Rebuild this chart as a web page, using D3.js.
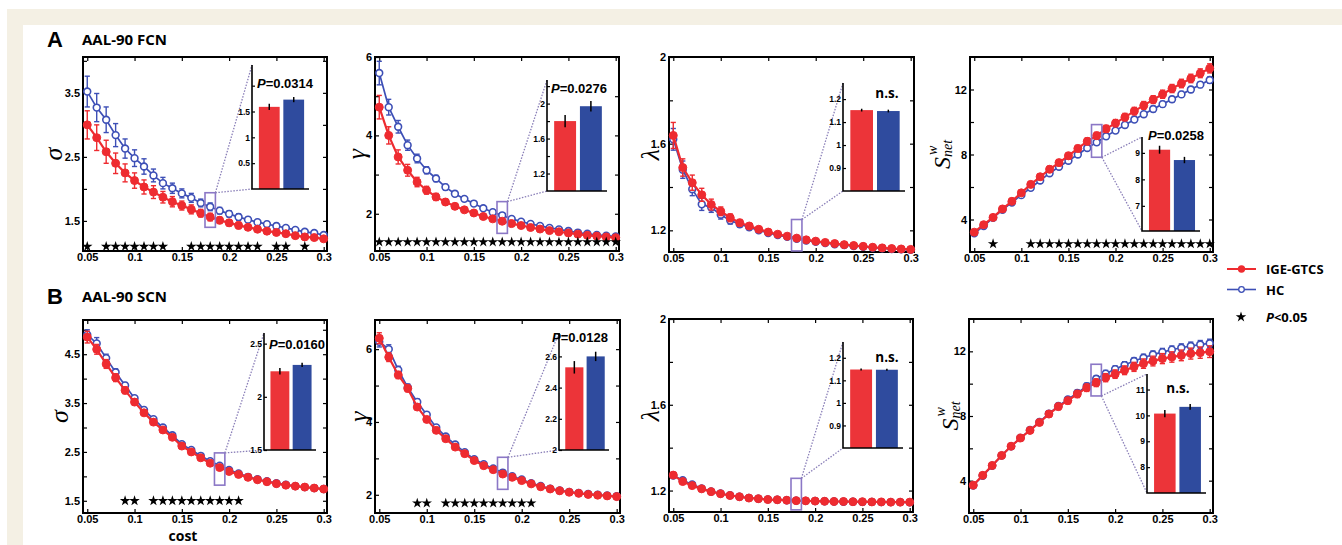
<!DOCTYPE html>
<html>
<head>
<meta charset="utf-8">
<script src="https://cdn.jsdelivr.net/npm/d3@7"></script>
<style>
  body { margin: 0; background: #fff; }
  svg { display: block; }
</style>
</head>
<body>
<svg id="chart" width="1342" height="545"></svg>
<script>
// network cost (x axis)
const cost = [0.05, 0.06, 0.07, 0.08, 0.09, 0.10, 0.11, 0.12, 0.13, 0.14, 0.15, 0.16, 0.17,
              0.18, 0.19, 0.20, 0.21, 0.22, 0.23, 0.24, 0.25, 0.26, 0.27, 0.28, 0.29, 0.30];
const xTicks = [0.05, 0.1, 0.15, 0.2, 0.25, 0.3];

// A: AAL-90 FCN
const sigmaFcnPat = [3.00, 2.80, 2.58, 2.40, 2.25, 2.13, 2.03, 1.95, 1.87, 1.80, 1.74, 1.68, 1.62, 1.56, 1.51, 1.47, 1.43, 1.40, 1.37, 1.34, 1.32, 1.30, 1.27, 1.25, 1.24, 1.22];
const sigmaFcnPatErr = [0.22, 0.20, 0.18, 0.16, 0.14, 0.12, 0.11, 0.10, 0.09, 0.08, 0.07, 0.07, 0.06, 0.06, 0.05, 0.05, 0.05, 0.04, 0.04, 0.04, 0.04, 0.03, 0.03, 0.03, 0.03, 0.03];
const sigmaFcnHc = [3.52, 3.27, 3.08, 2.84, 2.63, 2.48, 2.35, 2.21, 2.09, 2.01, 1.93, 1.86, 1.78, 1.72, 1.66, 1.61, 1.56, 1.52, 1.48, 1.45, 1.42, 1.39, 1.36, 1.33, 1.31, 1.28];
const sigmaFcnHcErr = [0.24, 0.22, 0.20, 0.18, 0.15, 0.13, 0.12, 0.10, 0.09, 0.08, 0.07, 0.07, 0.06, 0.06, 0.05, 0.05, 0.05, 0.04, 0.04, 0.04, 0.04, 0.03, 0.03, 0.03, 0.03, 0.03];

const gammaFcnPat = [4.72, 4.00, 3.45, 3.11, 2.81, 2.60, 2.43, 2.30, 2.19, 2.10, 2.02, 1.93, 1.87, 1.81, 1.75, 1.70, 1.65, 1.61, 1.57, 1.54, 1.51, 1.48, 1.45, 1.43, 1.41, 1.39];
const gammaFcnPatErr = [0.30, 0.22, 0.18, 0.15, 0.12, 0.10, 0.09, 0.08, 0.07, 0.06, 0.05, 0.05, 0.05, 0.04, 0.04, 0.04, 0.04, 0.03, 0.03, 0.03, 0.03, 0.03, 0.03, 0.03, 0.03, 0.03];
const gammaFcnHc = [5.59, 4.72, 4.22, 3.75, 3.41, 3.11, 2.90, 2.68, 2.51, 2.38, 2.26, 2.14, 2.04, 1.96, 1.87, 1.80, 1.74, 1.69, 1.64, 1.60, 1.56, 1.52, 1.49, 1.46, 1.44, 1.42];
const gammaFcnHcErr = [0.30, 0.20, 0.16, 0.13, 0.11, 0.09, 0.08, 0.07, 0.06, 0.05, 0.05, 0.05, 0.04, 0.04, 0.04, 0.04, 0.03, 0.03, 0.03, 0.03, 0.03, 0.03, 0.03, 0.03, 0.03, 0.03];

const lambdaFcnPat = [1.638, 1.490, 1.420, 1.364, 1.319, 1.288, 1.258, 1.235, 1.220, 1.205, 1.192, 1.182, 1.173, 1.164, 1.156, 1.150, 1.144, 1.139, 1.134, 1.130, 1.126, 1.122, 1.119, 1.116, 1.114, 1.112];
const lambdaFcnPatErr = [0.060, 0.040, 0.035, 0.030, 0.025, 0.020, 0.018, 0.015, 0.012, 0.010, 0.010, 0.008, 0.008, 0.007, 0.006, 0.006, 0.005, 0.005, 0.005, 0.005, 0.004, 0.004, 0.004, 0.004, 0.004, 0.004];
const lambdaFcnHc = [1.620, 1.480, 1.390, 1.320, 1.305, 1.272, 1.245, 1.228, 1.214, 1.200, 1.188, 1.178, 1.170, 1.161, 1.153, 1.147, 1.141, 1.136, 1.132, 1.128, 1.124, 1.120, 1.117, 1.114, 1.112, 1.110];
const lambdaFcnHcErr = [0.050, 0.040, 0.030, 0.028, 0.022, 0.020, 0.016, 0.014, 0.012, 0.010, 0.009, 0.008, 0.007, 0.006, 0.006, 0.005, 0.005, 0.005, 0.004, 0.004, 0.004, 0.004, 0.004, 0.004, 0.004, 0.004];

const strengthFcnPat = [3.22, 3.68, 4.13, 4.65, 5.12, 5.64, 6.16, 6.63, 7.09, 7.50, 7.92, 8.37, 8.81, 9.16, 9.58, 9.93, 10.30, 10.67, 11.02, 11.38, 11.71, 12.06, 12.37, 12.68, 13.00, 13.30];
const strengthFcnPatErr = [0.15, 0.15, 0.16, 0.16, 0.17, 0.17, 0.18, 0.18, 0.19, 0.19, 0.20, 0.20, 0.21, 0.21, 0.22, 0.22, 0.23, 0.23, 0.24, 0.24, 0.25, 0.25, 0.26, 0.26, 0.27, 0.28];
const strengthFcnHc = [3.15, 3.60, 4.10, 4.60, 5.05, 5.50, 5.95, 6.40, 6.85, 7.25, 7.62, 8.00, 8.40, 8.75, 9.12, 9.47, 9.82, 10.15, 10.48, 10.80, 11.10, 11.40, 11.70, 12.00, 12.30, 12.58];
const strengthFcnHcErr = [0.10, 0.10, 0.11, 0.11, 0.12, 0.12, 0.12, 0.13, 0.13, 0.13, 0.14, 0.14, 0.14, 0.15, 0.15, 0.15, 0.16, 0.16, 0.16, 0.17, 0.17, 0.17, 0.18, 0.18, 0.18, 0.19];

// B: AAL-90 SCN
const sigmaScnPat = [4.85, 4.60, 4.30, 4.02, 3.76, 3.52, 3.30, 3.11, 2.95, 2.80, 2.62, 2.50, 2.38, 2.27, 2.18, 2.10, 2.04, 1.98, 1.93, 1.89, 1.85, 1.82, 1.80, 1.78, 1.76, 1.74];
const sigmaScnPatErr = [0.12, 0.10, 0.09, 0.08, 0.07, 0.06, 0.05, 0.05, 0.04, 0.04, 0.04, 0.03, 0.03, 0.03, 0.03, 0.03, 0.03, 0.03, 0.03, 0.03, 0.03, 0.03, 0.03, 0.03, 0.03, 0.03];
const sigmaScnHc = [4.90, 4.72, 4.42, 4.13, 3.86, 3.60, 3.36, 3.17, 3.00, 2.84, 2.66, 2.54, 2.42, 2.31, 2.22, 2.13, 2.06, 1.99, 1.94, 1.90, 1.86, 1.83, 1.80, 1.78, 1.76, 1.74];
const sigmaScnHcErr = [0.10, 0.12, 0.08, 0.07, 0.06, 0.05, 0.05, 0.04, 0.04, 0.04, 0.03, 0.03, 0.03, 0.03, 0.03, 0.03, 0.03, 0.03, 0.03, 0.03, 0.03, 0.03, 0.03, 0.03, 0.03, 0.03];

const gammaScnPat = [6.30, 5.78, 5.29, 4.92, 4.41, 4.07, 3.77, 3.54, 3.31, 3.13, 2.94, 2.80, 2.69, 2.57, 2.48, 2.39, 2.30, 2.22, 2.16, 2.11, 2.07, 2.04, 2.01, 1.99, 1.97, 1.95];
const gammaScnPatErr = [0.15, 0.12, 0.10, 0.09, 0.08, 0.07, 0.06, 0.05, 0.05, 0.04, 0.04, 0.04, 0.04, 0.03, 0.03, 0.03, 0.03, 0.03, 0.03, 0.03, 0.03, 0.03, 0.03, 0.03, 0.03, 0.03];
const gammaScnHc = [6.20, 6.00, 5.43, 4.95, 4.55, 4.20, 3.85, 3.60, 3.38, 3.17, 2.98, 2.84, 2.72, 2.61, 2.51, 2.42, 2.32, 2.24, 2.17, 2.12, 2.08, 2.05, 2.02, 2.00, 1.98, 1.96];
const gammaScnHcErr = [0.14, 0.12, 0.10, 0.09, 0.08, 0.07, 0.06, 0.05, 0.05, 0.04, 0.04, 0.04, 0.03, 0.03, 0.03, 0.03, 0.03, 0.03, 0.03, 0.03, 0.03, 0.03, 0.03, 0.03, 0.03, 0.03];

const lambdaScnPat = [1.272, 1.242, 1.223, 1.208, 1.195, 1.185, 1.177, 1.171, 1.165, 1.162, 1.158, 1.157, 1.155, 1.153, 1.152, 1.151, 1.150, 1.149, 1.149, 1.148, 1.148, 1.147, 1.147, 1.146, 1.146, 1.146];
const lambdaScnPatErr = [0.010, 0.008, 0.007, 0.006, 0.005, 0.005, 0.004, 0.004, 0.004, 0.003, 0.003, 0.003, 0.003, 0.003, 0.003, 0.003, 0.003, 0.003, 0.003, 0.003, 0.003, 0.003, 0.003, 0.003, 0.003, 0.003];
const lambdaScnHc = [1.270, 1.248, 1.228, 1.210, 1.196, 1.186, 1.178, 1.171, 1.166, 1.162, 1.159, 1.157, 1.155, 1.153, 1.152, 1.151, 1.150, 1.149, 1.148, 1.148, 1.147, 1.147, 1.146, 1.146, 1.146, 1.145];
const lambdaScnHcErr = [0.009, 0.008, 0.007, 0.006, 0.005, 0.005, 0.004, 0.004, 0.004, 0.003, 0.003, 0.003, 0.003, 0.003, 0.003, 0.003, 0.003, 0.003, 0.003, 0.003, 0.003, 0.003, 0.003, 0.003, 0.003, 0.003];

const strengthScnPat = [3.72, 4.33, 4.94, 5.56, 6.13, 6.64, 7.11, 7.60, 8.12, 8.58, 8.95, 9.36, 9.75, 10.06, 10.37, 10.59, 10.83, 11.04, 11.24, 11.40, 11.55, 11.65, 11.75, 11.86, 11.92, 11.98];
const strengthScnPatErr = [0.10, 0.10, 0.12, 0.13, 0.14, 0.15, 0.16, 0.17, 0.18, 0.19, 0.20, 0.22, 0.23, 0.24, 0.25, 0.26, 0.27, 0.28, 0.29, 0.30, 0.31, 0.32, 0.33, 0.34, 0.35, 0.36];
const strengthScnHc = [3.70, 4.30, 4.92, 5.55, 6.12, 6.65, 7.13, 7.63, 8.15, 8.62, 9.02, 9.42, 9.85, 10.30, 10.62, 10.90, 11.15, 11.40, 11.60, 11.80, 11.95, 12.10, 12.22, 12.33, 12.42, 12.50];
const strengthScnHcErr = [0.08, 0.08, 0.09, 0.10, 0.11, 0.12, 0.13, 0.14, 0.15, 0.16, 0.17, 0.18, 0.18, 0.19, 0.20, 0.20, 0.21, 0.21, 0.22, 0.22, 0.23, 0.23, 0.24, 0.24, 0.25, 0.25];

// costs with P<0.05
const starsSigmaFcn = [0.05, 0.07, 0.08, 0.09, 0.10, 0.11, 0.12, 0.13, 0.16, 0.17, 0.18, 0.19, 0.20, 0.21, 0.22, 0.23, 0.25, 0.26, 0.28];
const starsGammaFcn = [0.05, 0.06, 0.07, 0.08, 0.09, 0.10, 0.11, 0.12, 0.13, 0.14, 0.15, 0.16, 0.17, 0.18, 0.19, 0.20, 0.21, 0.22, 0.23, 0.24, 0.25, 0.26, 0.27, 0.28, 0.29, 0.30];
const starsStrengthFcn = [0.07, 0.11, 0.12, 0.13, 0.14, 0.15, 0.16, 0.17, 0.18, 0.19, 0.20, 0.21, 0.22, 0.23, 0.24, 0.25, 0.26, 0.27, 0.28, 0.29, 0.30];
const starsSigmaScn = [0.09, 0.10, 0.12, 0.13, 0.14, 0.15, 0.16, 0.17, 0.18, 0.19, 0.20, 0.21];
const starsGammaScn = [0.09, 0.10, 0.12, 0.13, 0.14, 0.15, 0.16, 0.17, 0.18, 0.19, 0.20, 0.21];

// inset bars (one per panel, A1..A4, B1..B4)
const insetPat = [1.59, 1.80, 1.152, 9.12, 2.24, 2.53, 1.148, 10.07];
const insetPatErr = [0.06, 0.07, 0.006, 0.15, 0.03, 0.04, 0.004, 0.14];
const insetHc = [1.73, 1.97, 1.148, 8.73, 2.30, 2.60, 1.147, 10.33];
const insetHcErr = [0.05, 0.06, 0.006, 0.12, 0.02, 0.03, 0.004, 0.11];
const insetNote = ["P=0.0314", "P=0.0276", "n.s.", "P=0.0258", "P=0.0160", "P=0.0128", "n.s.", "n.s."];

const legendLabels = ["IGE-GTCS", "HC", "P<0.05"];

// ---------------------------------------------------------------
const RED = "#ee2b30", BLUE = "#3d4fb6";
const BAR_RED = "#ec3439", BAR_BLUE = "#2f4b9e", ZOOM = "#8b77c6";
const tickFont = "'Liberation Sans', Arial, sans-serif";
const titleFont = "'Open Sans', 'Noto Sans', sans-serif";
const greekFont = "'Liberation Serif', 'DejaVu Serif', serif";
const xDomain = [0.0455, 0.3035];
const fmt = d3.format("~g");

const panels = [
  { pat: sigmaFcnPat, patErr: sigmaFcnPatErr, hc: sigmaFcnHc, hcErr: sigmaFcnHcErr, stars: starsSigmaFcn, starY: 1.1,
    box: {x: 83, y: 57, w: 244, h: 194}, yDomain: [1.03, 4.06], yTicks: [1.5, 2, 2.5, 3, 3.5, 4], yLabels: [1.5, 2.5, 3.5],
    ylab: "σ", ylabX: 53, zoomAt: 0.18, zoomY: [1.4, 1.94], corner: "top",
    inset: {x: 252, y: 65, w: 57, h: 124, domain: [0, 2.4], ticks: [0.5, 1, 1.5, 2], labels: [0.5, 1, 1.5]},
    note: {x: 257, y: 88, anchor: "start"} },
  { pat: gammaFcnPat, patErr: gammaFcnPatErr, hc: gammaFcnHc, hcErr: gammaFcnHcErr, stars: starsGammaFcn, starY: 1.28,
    box: {x: 375, y: 57, w: 244, h: 194}, yDomain: [1.05, 6], yTicks: [2, 3, 4, 5, 6], yLabels: [2, 4, 6],
    ylab: "γ", ylabX: 356, zoomAt: 0.18, zoomY: [1.5, 2.31], corner: "top",
    inset: {x: 547, y: 80, w: 60, h: 111, domain: [1.0, 2.27], ticks: [1.2, 1.4, 1.6, 1.8, 2, 2.2], labels: [1.2, 1.6, 2]},
    note: {x: 551, y: 93, anchor: "start"} },
  { pat: lambdaFcnPat, patErr: lambdaFcnPatErr, hc: lambdaFcnHc, hcErr: lambdaFcnHcErr, stars: [], starY: 1.1,
    box: {x: 669, y: 57, w: 245, h: 195}, yDomain: [1.1, 2], yTicks: [1.2, 1.4, 1.6, 1.8, 2], yLabels: [1.2, 1.6, 2],
    ylab: "λ", ylabX: 650, zoomAt: 0.18, zoomY: [1.105, 1.25], corner: "top",
    inset: {x: 843, y: 83, w: 62, h: 108, domain: [0.8, 1.27], ticks: [0.9, 1, 1.1, 1.2], labels: [0.9, 1, 1.1, 1.2]},
    note: {x: 887, y: 98, anchor: "middle"} },
  { pat: strengthFcnPat, patErr: strengthFcnPatErr, hc: strengthFcnHc, hcErr: strengthFcnHcErr, stars: starsStrengthFcn, starY: 2.5,
    box: {x: 970, y: 57, w: 243, h: 195}, yDomain: [2, 14], yTicks: [4, 6, 8, 10, 12], yLabels: [4, 8, 12],
    ylab: "S", ylabX: 942, zoomAt: 0.18, zoomY: [7.83, 9.84], corner: "bottom",
    inset: {x: 1142, y: 137, w: 58, h: 94, domain: [6.05, 9.6], ticks: [7, 8, 9], labels: [7, 8, 9]},
    note: {x: 1148, y: 140, anchor: "start"} },
  { pat: sigmaScnPat, patErr: sigmaScnPatErr, hc: sigmaScnHc, hcErr: sigmaScnHcErr, stars: starsSigmaScn, starY: 1.5,
    box: {x: 83, y: 320, w: 244, h: 193}, yDomain: [1.25, 5.2], yTicks: [1.5, 2, 2.5, 3, 3.5, 4, 4.5, 5], yLabels: [1.5, 2.5, 3.5, 4.5],
    ylab: "σ", ylabX: 59, zoomAt: 0.19, zoomY: [1.82, 2.48], corner: "top",
    inset: {x: 264, y: 333, w: 52, h: 117, domain: [1.5, 2.6], ticks: [1.5, 2, 2.5], labels: [1.5, 2, 2.5]},
    note: {x: 269, y: 349, anchor: "start"} },
  { pat: gammaScnPat, patErr: gammaScnPatErr, hc: gammaScnHc, hcErr: gammaScnHcErr, stars: starsGammaScn, starY: 1.77,
    box: {x: 375, y: 320, w: 245, h: 193}, yDomain: [1.5, 6.8], yTicks: [2, 3, 4, 5, 6], yLabels: [2, 4, 6],
    ylab: "γ", ylabX: 358, zoomAt: 0.18, zoomY: [2.15, 3.03], corner: "top",
    inset: {x: 559, y: 333, w: 50, h: 117, domain: [2, 2.75], ticks: [2, 2.2, 2.4, 2.6], labels: [2, 2.2, 2.4, 2.6]},
    note: {x: 552, y: 342, anchor: "start"} },
  { pat: lambdaScnPat, patErr: lambdaScnPatErr, hc: lambdaScnHc, hcErr: lambdaScnHcErr, stars: [], starY: 1.1,
    box: {x: 669, y: 319, w: 244, h: 193}, yDomain: [1.1, 2], yTicks: [1.2, 1.4, 1.6, 1.8, 2], yLabels: [1.2, 1.6, 2],
    ylab: "λ", ylabX: 650, zoomAt: 0.18, zoomY: [1.11, 1.257], corner: "top",
    inset: {x: 843, y: 342, w: 60, h: 106, domain: [0.8, 1.27], ticks: [0.9, 1, 1.1, 1.2], labels: [0.9, 1, 1.1, 1.2]},
    note: {x: 887, y: 362, anchor: "middle"} },
  { pat: strengthScnPat, patErr: strengthScnPatErr, hc: strengthScnHc, hcErr: strengthScnHcErr, stars: [], starY: 2.5,
    box: {x: 969, y: 319, w: 244, h: 194}, yDomain: [2, 14], yTicks: [4, 6, 8, 10, 12], yLabels: [4, 8, 12],
    ylab: "S", ylabX: 950, zoomAt: 0.18, zoomY: [9.24, 11.2], corner: "bottom",
    inset: {x: 1147, y: 374, w: 59, h: 119, domain: [7, 11.6], ticks: [8, 9, 10, 11], labels: [8, 9, 10, 11]},
    note: {x: 1178, y: 393, anchor: "middle"} }
];

const svg = d3.select("#chart");

// page backdrop: cream frame at top and left
svg.append("rect").attr("width", 1342).attr("height", 545).attr("fill", "#fff");
svg.append("rect").attr("x", 7).attr("y", 9).attr("width", 1335).attr("height", 16).attr("fill", "#f4f0e4");
svg.append("rect").attr("x", 7).attr("y", 9).attr("width", 16).attr("height", 536).attr("fill", "#f4f0e4");

// panel titles
function title(letter, text, y) {
  svg.append("text").attr("x", 47).attr("y", y).text(letter)
    .attr("font-family", tickFont).attr("font-weight", "bold").attr("font-size", 22);
  svg.append("text").attr("x", 82).attr("y", y - 2).text(text)
    .attr("font-family", titleFont).attr("font-weight", "bold").attr("font-size", 15);
}
title("A", "AAL-90 FCN", 47);
title("B", "AAL-90 SCN", 304);

function styleTicks(sel, size) {
  sel.select(".domain").remove();
  sel.selectAll("line").attr("stroke", "#000").attr("stroke-width", 1.2);
  sel.selectAll("text").attr("font-family", tickFont).attr("font-weight", "bold")
    .attr("font-size", size).attr("fill", "#000");
}

function drawPanel(p, i) {
  const g = svg.append("g");
  const b = p.box;
  const x = d3.scaleLinear().domain(xDomain).range([b.x, b.x + b.w]);
  const y = d3.scaleLinear().domain(p.yDomain).range([b.y + b.h, b.y]);

  // axes with inward ticks on all four sides
  g.append("g").attr("transform", `translate(0,${b.y + b.h})`)
    .call(d3.axisBottom(x).tickValues(xTicks).tickSize(-4).tickSizeOuter(0).tickPadding(2).tickFormat(fmt))
    .call(s => styleTicks(s, 11));
  g.append("g").attr("transform", `translate(0,${b.y})`)
    .call(d3.axisTop(x).tickValues(xTicks).tickSize(-4).tickSizeOuter(0).tickFormat(""))
    .call(s => styleTicks(s, 11));
  g.append("g").attr("transform", `translate(${b.x},0)`)
    .call(d3.axisLeft(y).tickValues(p.yTicks).tickSize(-4).tickSizeOuter(0).tickPadding(3)
      .tickFormat(d => p.yLabels.includes(d) ? fmt(d) : ""))
    .call(s => styleTicks(s, 11));
  g.append("g").attr("transform", `translate(${b.x + b.w},0)`)
    .call(d3.axisRight(y).tickValues(p.yTicks).tickSize(-4).tickSizeOuter(0).tickFormat(""))
    .call(s => styleTicks(s, 11));
  g.append("rect").attr("x", b.x).attr("y", b.y).attr("width", b.w).attr("height", b.h)
    .attr("fill", "none").attr("stroke", "#000").attr("stroke-width", 2);

  // y label
  const yl = g.append("text")
    .attr("transform", `translate(${p.ylabX},${b.y + b.h / 2}) rotate(-90)`)
    .attr("text-anchor", "middle").attr("dominant-baseline", "central")
    .attr("font-family", greekFont).attr("font-style", "italic").attr("fill", "#000");
  if (p.ylab === "S") {
    yl.append("tspan").attr("font-size", 24).text("S");
    yl.append("tspan").attr("font-size", 14).attr("dy", 5).text("net");
    yl.append("tspan").attr("font-size", 14).attr("dx", -15).attr("dy", -15).text("w");
  } else {
    yl.attr("font-size", 26).text(p.ylab);
  }

  // series: HC first, patients on top
  const line = d3.line().x((d, k) => x(cost[k])).y(d => y(d));
  const series = [
    {vals: p.hc, err: p.hcErr, color: BLUE, filled: false, width: 1.7},
    {vals: p.pat, err: p.patErr, color: RED, filled: true, width: 2.2}
  ];
  series.forEach(s => {
    const sg = g.append("g");
    sg.append("path").datum(s.vals).attr("d", line)
      .attr("fill", "none").attr("stroke", s.color).attr("stroke-width", s.width);
    const eb = sg.selectAll(".eb").data(s.vals).enter().append("g");
    eb.append("line")
      .attr("x1", (d, k) => x(cost[k])).attr("x2", (d, k) => x(cost[k]))
      .attr("y1", (d, k) => y(d - s.err[k])).attr("y2", (d, k) => y(d + s.err[k]))
      .attr("stroke", s.color).attr("stroke-width", 1.4);
    [-1, 1].forEach(sign => {
      eb.append("line")
        .attr("x1", (d, k) => x(cost[k]) - 2.6).attr("x2", (d, k) => x(cost[k]) + 2.6)
        .attr("y1", (d, k) => y(d + sign * s.err[k])).attr("y2", (d, k) => y(d + sign * s.err[k]))
        .attr("stroke", s.color).attr("stroke-width", 1.4);
    });
    sg.selectAll("circle").data(s.vals).enter().append("circle")
      .attr("cx", (d, k) => x(cost[k])).attr("cy", d => y(d))
      .attr("r", s.filled ? 4 : 3.4)
      .attr("fill", s.filled ? s.color : "#fff")
      .attr("stroke", s.color).attr("stroke-width", s.filled ? 1 : 1.6);
  });

  // significance stars
  const star = d3.symbol(d3.symbolStar, 34)();
  g.selectAll(".star").data(p.stars).enter().append("path")
    .attr("d", star).attr("fill", "#000")
    .attr("transform", d => `translate(${x(d)},${y(p.starY)})`);

  // zoom rectangle and connectors
  const rx0 = x(p.zoomAt - 0.0055), rx1 = x(p.zoomAt + 0.0055);
  const ry0 = y(p.zoomY[1]), ry1 = y(p.zoomY[0]);
  g.append("rect").attr("x", rx0).attr("y", ry0).attr("width", rx1 - rx0).attr("height", ry1 - ry0)
    .attr("fill", "none").attr("stroke", ZOOM).attr("stroke-width", 1.6);
  const inset = p.inset;
  const cy = p.corner === "top" ? ry0 : ry1;
  [inset.y, inset.y + inset.h].forEach(ty => {
    g.append("line").attr("x1", rx1).attr("y1", cy).attr("x2", inset.x).attr("y2", ty)
      .attr("stroke", "#8a7fb8").attr("stroke-width", 1.3).attr("stroke-dasharray", "1.5,1.5");
  });

  // inset bar chart
  const yi = d3.scaleLinear().domain(inset.domain).range([inset.y + inset.h, inset.y]);
  const xb = d3.scaleBand().domain(["pat", "hc"]).range([inset.x + 2, inset.x + inset.w])
    .paddingInner(0.15).paddingOuter(0.2);
  const bars = [
    {key: "pat", v: insetPat[i], e: insetPatErr[i], color: BAR_RED},
    {key: "hc", v: insetHc[i], e: insetHcErr[i], color: BAR_BLUE}
  ];
  g.selectAll(".bar").data(bars).enter().append("rect")
    .attr("x", d => xb(d.key)).attr("width", xb.bandwidth())
    .attr("y", d => yi(d.v)).attr("height", d => yi(inset.domain[0]) - yi(d.v))
    .attr("fill", d => d.color);
  g.selectAll(".berr").data(bars).enter().append("line")
    .attr("x1", d => xb(d.key) + xb.bandwidth() / 2).attr("x2", d => xb(d.key) + xb.bandwidth() / 2)
    .attr("y1", d => yi(d.v - d.e)).attr("y2", d => yi(d.v + d.e))
    .attr("stroke", "#000").attr("stroke-width", 1.5);
  g.append("g").attr("transform", `translate(${inset.x},0)`)
    .call(d3.axisLeft(yi).tickValues(inset.ticks).tickSize(-3).tickSizeOuter(0).tickPadding(2)
      .tickFormat(d => inset.labels.includes(d) ? fmt(d) : ""))
    .call(s => styleTicks(s, 8.5));
  g.append("path")
    .attr("d", `M${inset.x},${inset.y}V${inset.y + inset.h}H${inset.x + inset.w}`)
    .attr("fill", "none").attr("stroke", "#000").attr("stroke-width", 1.6);

  // inset annotation
  const note = insetNote[i];
  const nt = g.append("text").attr("x", p.note.x).attr("y", p.note.y)
    .attr("text-anchor", p.note.anchor).attr("font-weight", "bold").attr("fill", "#000");
  if (note.startsWith("P")) {
    nt.attr("font-family", tickFont).attr("font-size", 13);
    nt.append("tspan").attr("font-style", "italic").text("P");
    nt.append("tspan").text(note.slice(1));
  } else {
    nt.attr("font-family", titleFont).attr("font-size", 13.5).text(note);
  }
}

panels.forEach(drawPanel);

// x axis title
svg.append("text").attr("x", 183).attr("y", 541).attr("text-anchor", "middle")
  .attr("font-family", titleFont).attr("font-weight", "bold").attr("font-size", 14).text("cost");

// legend
const lg = svg.append("g").attr("font-family", titleFont).attr("font-weight", "bold").attr("font-size", 13);
const legendY = [269, 289.5, 317];
[{color: RED, filled: true}, {color: BLUE, filled: false}].forEach((d, k) => {
  lg.append("line").attr("x1", 1227).attr("x2", 1256).attr("y1", legendY[k]).attr("y2", legendY[k])
    .attr("stroke", d.color).attr("stroke-width", d.filled ? 2 : 1.6);
  lg.append("circle").attr("cx", 1241.5).attr("cy", legendY[k]).attr("r", d.filled ? 3 : 2.8)
    .attr("fill", d.filled ? d.color : "#fff").attr("stroke", d.color).attr("stroke-width", 1.3);
});
lg.append("path").attr("d", d3.symbol(d3.symbolStar, 34)())
  .attr("transform", `translate(1241,${legendY[2]})`).attr("fill", "#000");
legendLabels.forEach((t, k) => {
  const tx = lg.append("text").attr("x", 1266).attr("y", legendY[k]).attr("dominant-baseline", "central");
  if (t.startsWith("P")) {
    tx.append("tspan").attr("font-style", "italic").text("P");
    tx.append("tspan").text(t.slice(1));
  } else {
    tx.text(t);
  }
});
</script>
</body>
</html>
